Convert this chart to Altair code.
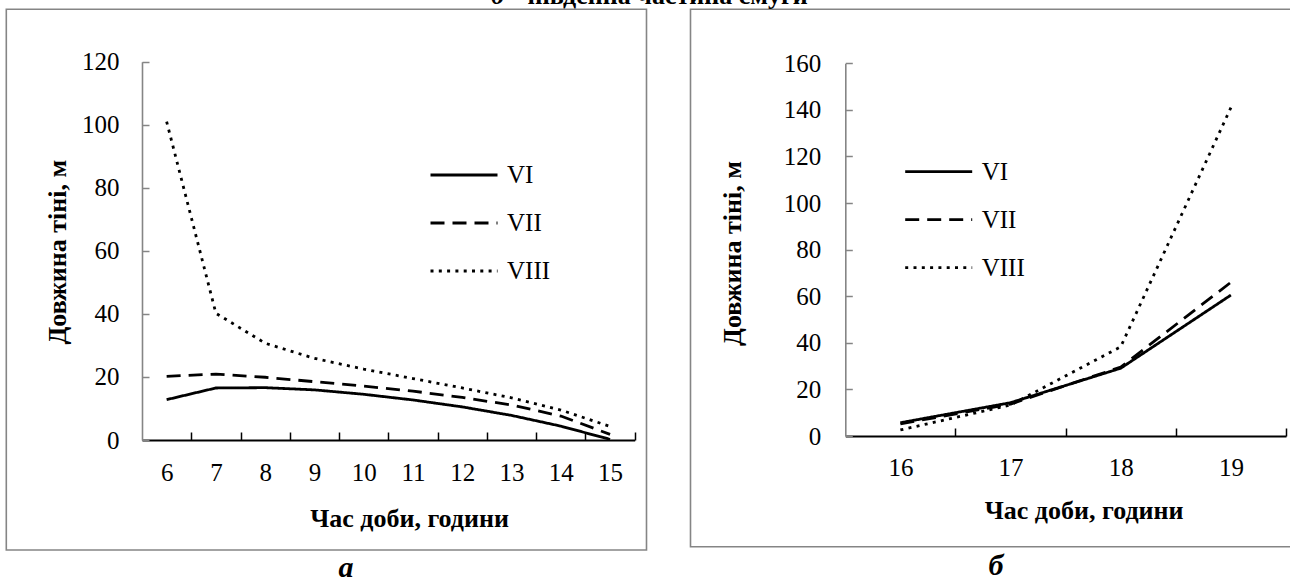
import altair as alt
import pandas as pd

# ---------------- data ----------------
series = ["VI", "VII", "VIII"]

hours_a = [6, 7, 8, 9, 10, 11, 12, 13, 14, 15]
vi_a = [12.8, 16.5, 16.6, 15.9, 14.5, 12.7, 10.5, 7.8, 4.4, 0.2]
vii_a = [20.2, 20.9, 19.9, 18.5, 17.1, 15.5, 13.5, 11.1, 7.6, 1.8]
viii_a = [101.0, 40.2, 30.7, 25.9, 22.5, 19.5, 16.5, 13.4, 9.5, 4.3]

hours_b = [16, 17, 18, 19]
vi_b = [5.7, 14.3, 29.1, 60.5]
vii_b = [5.2, 13.7, 29.6, 66.0]
viii_b = [2.6, 13.3, 38.3, 141.0]

yticks_a = [0, 20, 40, 60, 80, 100, 120]
yticks_b = [0, 20, 40, 60, 80, 100, 120, 140, 160]

x_title = "Час доби, години"
y_title = "Довжина тіні, м"
top_title_a = "б"
top_title_b = "– південна частина смуги"
cap_a = "а"
cap_b = "б"

# ---------------- layout ----------------
W, H = 1290, 584
FONT = "Liberation Serif, Times New Roman, serif"
GRAY = "#858585"
LW = 2.8


def long_df(hours, vals):
    rows = []
    for s, v in zip(series, vals):
        for h, y in zip(hours, v):
            rows.append({"hour": h, "value": y, "series": s})
    return pd.DataFrame(rows)


df_a = long_df(hours_a, [vi_a, vii_a, viii_a])
df_b = long_df(hours_b, [vi_b, vii_b, viii_b])


def panel(df, hours, yticks, x0, x1, ybot, ytop, ymax, ytitle_x, ytitle_y,
          xtitle_x, xtitle_y, ylab_pad, xlab_pad, leg_x, leg_y):
    xs = alt.Scale(domain=[hours[0] - 0.5, hours[-1] + 0.5], range=[x0, x1],
                   nice=False, zero=False)
    ys = alt.Scale(domain=[0, ymax], range=[ybot, ytop], nice=False, zero=True)
    tick_vals = [h + 0.5 for h in hours]
    base = alt.Chart(df)
    lines = base.mark_line(color="black", strokeWidth=LW, interpolate="linear",
                           strokeJoin="round").encode(
        x=alt.X("hour:Q", scale=xs, axis=alt.Axis(
            orient="bottom", values=hours, format="d", ticks=False, tickSize=0,
            domain=False, grid=False, labelFont=FONT, labelFontSize=25,
            labelColor="black", labelPadding=xlab_pad, labelBaseline="middle",
            offset=ybot - H, title=x_title, titleFont=FONT, titleFontSize=26,
            titleFontWeight="bold", titleColor="black", titleX=xtitle_x,
            titleY=xtitle_y, titleBaseline="middle", titleAlign="center")),
        y=alt.Y("value:Q", scale=ys, axis=alt.Axis(
            orient="left", values=yticks, ticks=False, tickSize=0, domain=False,
            grid=False, labelFont=FONT, labelFontSize=25, labelColor="black",
            labelPadding=ylab_pad, offset=-x0, title=y_title, titleFont=FONT,
            titleFontSize=26, titleFontWeight="bold", titleColor="black",
            titleX=ytitle_x, titleY=ytitle_y, titleAngle=-90,
            titleBaseline="middle", titleAlign="center")),
        strokeDash=alt.StrokeDash("series:N", scale=alt.Scale(
            domain=series, range=[[1, 0], [14, 8], [3, 5.3]]),
            legend=alt.Legend(orient="none", legendX=leg_x, legendY=leg_y,
                              direction="vertical", title=None,
                              symbolType="stroke", symbolSize=67 * 67,
                              symbolStrokeWidth=LW, symbolStrokeColor="black",
                              labelFont=FONT, labelFontSize=25,
                              labelColor="black", labelOffset=8,
                              rowPadding=-6.5, padding=0)),
    )
    frame_axes = base.mark_line(opacity=0).encode(
        x=alt.X("hour:Q", scale=xs, axis=alt.Axis(
            orient="top", values=tick_vals, labels=False, ticks=True,
            tickSize=8, tickColor="black", tickWidth=1.5, domain=True,
            domainColor="black", domainWidth=2.2, grid=False, title=None,
            offset=-ybot)),
        y=alt.Y("value:Q", scale=ys, axis=alt.Axis(
            orient="right", values=yticks, labels=False, ticks=True,
            tickSize=7, tickColor=GRAY, tickWidth=1.5, domain=True,
            domainColor=GRAY, domainWidth=1.6, grid=False, title=None,
            offset=x0 - W)),
        detail="series:N",
    )
    return alt.layer(frame_axes, lines)


left = panel(df_a, hours_a, yticks_a, 142, 634.7, 440, 61.7, 120,
             57 - 142, 251.7, 409, 78, 23, 32, 429, 140)
right = panel(df_b, hours_b, yticks_b, 845.3, 1286, 436, 63.3, 160,
              732.5 - 845.3, 253, 1083.6, 74, 24.5, 31.5, 903.7, 136.7)

deco = alt.Data(values=[{"k": 1}])
frame_l = alt.Chart(deco).mark_rect(fillOpacity=0, stroke=GRAY, strokeWidth=1.6).encode(
    x=alt.value(6.3), x2=alt.value(646.5), y=alt.value(9.3), y2=alt.value(550))
frame_r = alt.Chart(deco).mark_rect(fillOpacity=0, stroke=GRAY, strokeWidth=1.6).encode(
    x=alt.value(690.5), x2=alt.value(1320), y=alt.value(9.3), y2=alt.value(546.7))

t1 = alt.Chart(deco).mark_text(text=top_title_a, font=FONT, fontSize=26, fontWeight="bold",
                               fontStyle="italic", align="left", baseline="alphabetic",
                               color="black").encode(x=alt.value(491), y=alt.value(4))
t2 = alt.Chart(deco).mark_text(text=top_title_b, font=FONT, fontSize=26, fontWeight="bold",
                               align="left", baseline="alphabetic",
                               color="black").encode(x=alt.value(508), y=alt.value(4))
ca = alt.Chart(deco).mark_text(text=cap_a, font=FONT, fontSize=30, fontWeight="bold",
                               fontStyle="italic", align="center", baseline="middle",
                               color="black").encode(x=alt.value(346), y=alt.value(568))
cb = alt.Chart(deco).mark_text(text=cap_b, font=FONT, fontSize=30, fontWeight="bold",
                               fontStyle="italic", align="center", baseline="middle",
                               color="black").encode(x=alt.value(996), y=alt.value(566))

chart = alt.layer(frame_l, frame_r, left, right, t1, t2, ca, cb).resolve_scale(
    x="independent", y="independent", strokeDash="independent"
).properties(
    width=W, height=H, autosize=alt.AutoSizeParams(type="none"), padding=0,
    background="white"
).configure(font=FONT).configure_view(stroke=None).configure_axis(
    labelFont=FONT, titleFont=FONT
).configure_legend(labelFont=FONT)

chart.save("out.html", embed_options={"renderer": "svg", "actions": False})
